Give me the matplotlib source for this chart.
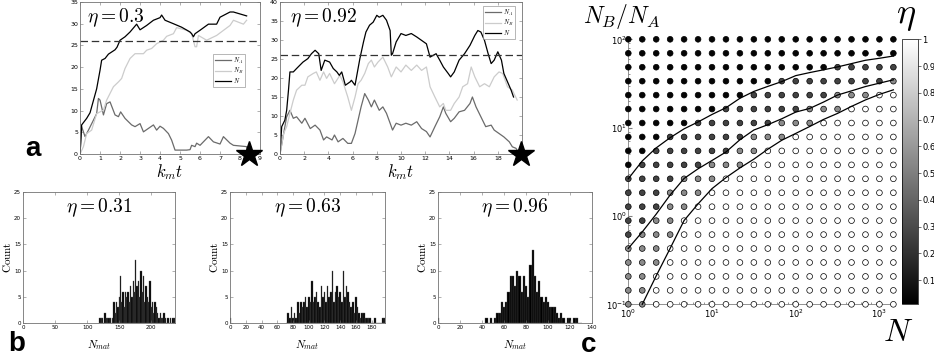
import numpy as np
import matplotlib.pyplot as plt
from matplotlib.lines import Line2D

plt.rcParams['mathtext.fontset'] = 'cm'
plt.rcParams['font.family'] = 'DejaVu Sans'

# ---- panel a (left): eta = 0.3 ----
t1_N = [0, 0.08, 0.33, 0.5, 0.83, 1.0, 1.08, 1.25, 1.42, 1.75, 1.85, 2.0, 2.25, 2.5, 2.83, 3.0, 3.33, 3.67, 4.0, 4.08,
        4.25, 4.67, 5.08, 5.5, 5.58, 5.67, 5.75, 6.0, 6.42, 6.83, 7.0, 7.5, 7.67, 8.33]
v1_N = [0, 6.7, 8.2, 9.5, 15, 19.3, 21.6, 22, 23, 24, 24.6, 26.2, 27, 28.1, 29.9, 28.6, 29.6, 30.8, 31.4, 32,
        30.8, 30, 29.2, 28.1, 27.7, 27, 27.7, 28.5, 29.9, 29.9, 31.5, 32.7, 32.7, 31.8]
t1_B = [0, 0.17, 0.33, 0.58, 0.83, 1.17, 1.33, 1.67, 1.92, 2.08, 2.25, 2.5, 2.75, 3.17, 3.33, 3.58, 3.83, 4.17, 4.33,
        4.67, 4.83, 5.33, 5.58, 5.75, 5.83, 5.92, 6.33, 6.83, 7.5, 7.67, 8.17, 8.33]
v1_B = [0, 1.7, 4.7, 5.5, 9.3, 10.1, 12.4, 15.5, 16.6, 17.4, 19.7, 22, 23.1, 23.1, 23.9, 24.3, 25.4, 26.2, 27.1,
        27.7, 29.1, 28.5, 27.7, 24.7, 24.7, 27.3, 26.2, 27.3, 29.6, 30.8, 29.9, 30.8]
t1_A = [0, 0.08, 0.25, 0.42, 0.67, 0.83, 0.92, 1.0, 1.17, 1.33, 1.5, 1.75, 1.92, 2.03, 2.25, 2.58, 2.75, 3.0, 3.17,
        3.42, 3.67, 3.83, 4.0, 4.17, 4.42, 4.58, 4.75, 5.33, 5.5, 5.58, 5.75, 5.83, 6.0, 6.42, 6.67, 7.0, 7.17,
        7.5, 7.67, 8.33, 8.4]
v1_A = [0, 6.3, 4, 5.5, 7.8, 9.3, 12.8, 12.4, 9, 11.6, 12, 9, 8.6, 9.7, 8.2, 6.7, 6.3, 7, 5.1,
        5.9, 6.7, 5.5, 6.4, 5.9, 4.7, 3.2, 0.9, 0.9, 1, 2, 1.7, 2.5, 2, 4, 2.8, 2.3, 4,
        2.5, 2, 1.7, 0]

# ---- panel a (right): eta = 0.92 ----
t2_N = [0, 0.14, 0.4, 0.55, 0.7, 0.82, 1.1, 1.37, 1.65, 1.9, 2.3, 2.6, 2.9, 3.2, 3.4, 3.7, 4.1, 4.4, 4.7, 4.9, 5.1,
        5.4, 5.8, 5.9, 6.2, 6.6, 6.9, 7.1, 7.4, 7.7, 8.0, 8.2, 8.5, 8.8, 9.1, 9.2, 9.3, 9.6, 10.0, 10.4, 10.85,
        11.3, 11.7, 12.1, 12.4, 12.9, 13.2, 13.5, 13.9, 14.1, 14.4, 14.8, 15.25, 15.7, 16.1, 16.35, 16.6, 16.9,
        17.2, 17.45, 17.7, 18.0, 18.3, 18.5, 18.8, 19.1, 19.3]
v2_N = [0, 7.2, 8.9, 11.5, 16.8, 21.6, 21.6, 22.5, 23.4, 24.2, 25.1, 26.4, 27.3, 26.4, 22, 24.7, 24.2, 22.5, 21.6, 20.7, 21.6,
        18.1, 19, 19.4, 18.1, 25.1, 29.5, 32.1, 33.9, 34.7, 36.5, 36, 36.5, 35.2, 32.5, 26, 26.4, 29.5, 31.7, 31.2, 31.7,
        30.8, 29.9, 29, 25.5, 26.4, 24.7, 22.9, 21.2, 20.3, 21.6, 24.7, 26.4, 28.6, 31.2, 32.5, 32.1, 29.9,
        26.4, 23.8, 24.7, 26.9, 24.7, 21.2, 19, 16.8, 15]
t2_B = [0, 0.3, 0.55, 0.82, 1.1, 1.37, 1.8, 2.06, 2.3, 2.75, 3.0, 3.3, 3.6, 3.85, 4.1, 4.5, 4.95, 5.2, 5.6, 5.9, 6.2,
        6.45, 6.7, 7.0, 7.3, 7.55, 7.8, 8.1, 8.5, 8.9, 9.2, 9.6, 10.0, 10.4, 10.85, 11.3, 11.7, 12.1, 12.4, 12.8,
        13.2, 13.5, 13.7, 14.1, 14.4, 14.8, 15.1, 15.5, 15.8, 16.1, 16.5, 16.9, 17.3, 17.7, 18.1, 18.4, 18.8,
        19.2, 19.6]
v2_B = [0, 5.4, 7.2, 10.7, 14.2, 16.8, 18.1, 18.1, 20.3, 21.2, 21.6, 19.4, 21.6, 19.9, 21.2, 18.5, 20.7, 19, 15, 11.5, 15,
        18.5, 19.4, 21.2, 23.8, 24.7, 22.9, 24.2, 25.5, 22.9, 20.3, 22.9, 21.6, 23.4, 22, 23.4, 22, 22.9, 17.7, 15,
        12.4, 13.3, 11.5, 11.5, 13.3, 15, 17.7, 18.5, 22.9, 20.3, 17.7, 18.5, 17.7, 20.3, 21.6, 21.2, 17.7,
        16.8, 14.2]
t2_A = [0, 0.3, 0.55, 0.82, 1.1, 1.37, 1.8, 2.06, 2.5, 2.9, 3.3, 3.6, 3.85, 4.3, 4.5, 4.8, 5.2, 5.6, 5.9, 6.2, 6.45,
        6.7, 7.0, 7.3, 7.55, 7.8, 8.2, 8.5, 8.8, 9.1, 9.3, 9.6, 10.0, 10.4, 10.85, 11.3, 11.7, 12.1, 12.4, 12.8,
        13.2, 13.5, 13.7, 14.1, 14.4, 14.8, 15.25, 15.7, 15.9, 16.2, 16.6, 17.0, 17.45, 17.7, 18.1, 18.5, 18.95,
        19.2, 19.5, 19.8]
v2_A = [0, 5.4, 9.8, 11.5, 9.4, 9.8, 8.1, 9.4, 6.7, 7.6, 6.3, 3.7, 4.5, 3.7, 5, 3.2, 4.1, 2.8, 2.8, 5.4, 8.9,
        12.4, 15.9, 14.2, 12.4, 14.2, 11.5, 12.4, 10.7, 8.1, 6.3, 8.1, 7.6, 8.1, 7.6, 8.5, 6.7, 5.9, 4.5, 7.2,
        9.8, 12.4, 10.7, 8.5, 9.4, 11.1, 11.5, 13.3, 15, 12.4, 9.8, 7.2, 7.6, 6.3, 5.4, 4.5, 3.2,
        1.9, 1.5, 0]
N_target = 26

# ---- panel b: histograms of N_mat ----
hist1_x = list(range(120, 237, 2))
hist1_n = [1, 1, 1, 0, 2, 1, 1, 1, 1, 0, 1, 4, 2, 4, 3, 5, 9, 4, 6, 3, 6, 5, 6, 4, 7, 5, 8, 6, 12, 7,
           8, 5, 10, 6, 9, 4, 7, 5, 4, 8, 3, 4, 2, 4, 3, 2, 1, 2, 1, 1, 2, 1, 0, 1, 0, 1, 0, 1, 1]
hist2_x = [0] + list(range(72, 197, 2))
hist2_n = [1, 0, 2, 1, 3, 1, 2, 1, 4, 2, 4, 3, 4, 5, 3, 5, 4, 8, 4, 5, 6, 4, 3, 7, 5, 6, 4, 7, 5, 6,
           10, 4, 6, 7, 5, 6, 4, 10, 5, 7, 6, 4, 3, 4, 2, 5, 3, 2, 1, 2, 2, 1, 1, 1, 1, 0, 0, 1, 0,
           0, 0, 0, 1, 1]
hist3_x = [0] + list(range(44, 131, 2))
hist3_n = [1, 1, 0, 1, 0, 1, 2, 2, 4, 3, 4, 6, 9, 9, 7, 10, 9, 6, 9, 7, 5, 11, 14, 9, 6, 8, 5, 4, 5, 4,
           3, 3, 3, 2, 1, 2, 1, 0, 1, 1, 0, 1, 1, 0, 0]
hist_eta = ['0.31', '0.63', '0.96']
hist_xlim = [237, 197, 140]
hist_ticks = [range(0, 201, 50), range(0, 181, 20), range(0, 141, 20)]

# ---- panel c: eta over (N, N_B/N_A) ----
N_vals = 10 ** (np.arange(20) / 6)
ratio_vals = np.logspace(-1, 2, 20)
# rows from top (N_B/N_A = 100) to bottom (0.1); k black, d dark, m mid, w white
eta_rows = [
    "kkkkkkkkkkkkkkkkkkkk",
    "kkkkkkkkkkkkkkkkkkkk",
    "kkkkkkkkkkkkkkkddddd",
    "kkkkkkkkkkkddddddddm",
    "kkkkkkkkkddddddmmmww",
    "kkkkkkkddddddmmmwwww",
    "kkkkkddddddmmmwwwwww",
    "kkkddddddmmmwwwwwwww",
    "kkddddddmmwwwwwwwwww",
    "kdddddmmmwwwwwwwwwww",
    "ddddmmmwwwwwwwwwwwww",
    "dddmmmwwwwwwwwwwwwww",
    "dddmmwwwwwwwwwwwwwww",
    "ddmmwwwwwwwwwwwwwwww",
    "dmmmwwwwwwwwwwwwwwww",
    "mmmwwwwwwwwwwwwwwwww",
    "mmmwwwwwwwwwwwwwwwww",
    "mmwwwwwwwwwwwwwwwwww",
    "mmwwwwwwwwwwwwwwwwww",
    "mmwwwwwwwwwwwwwwwwww",
]
eta_level = {'k': 0.03, 'd': 0.27, 'm': 0.55, 'w': 1.0}
line_top = [2.64, 4.2, 5.9, 7.7, 9.7, 11.6, 14.1, 16.8, 21.5, 25.7, 29.3, 33.2, 38.8, 42.0, 45.2, 48.7, 53.1, 57.9, 61.0, 64.7]
line_mid = [0.43, 0.66, 1.05, 1.73, 2.66, 3.42, 4.25, 5.3, 7.3, 9.4, 10.8, 12.6, 15.0, 16.5, 19.5, 23.4, 26.1, 29.2, 31.9, 34.8]
line_bot = [None, 0.1, 0.21, 0.43, 0.89, 1.37, 2.04, 2.72, 3.5, 4.4, 5.7, 7.2, 8.6, 10.3, 12.4, 14.5, 17.4, 20.6, 23.8, 26.8]

fig = plt.figure(figsize=(9.34, 3.59), dpi=100)

def style_box(ax, fs=4.5):
    for s in ax.spines.values():
        s.set_color('0.45')
        s.set_linewidth(0.6)
    ax.tick_params(direction='in', labelsize=fs, length=2, width=0.4, color='0.45',
                   top=True, right=True, pad=1.5)

# panel a
for pos, t_series, xmax, ymax, xt, eta_txt, star_x, leg_loc in [
        ([0.0857, 0.571, 0.1927, 0.4234], [(t1_A, v1_A), (t1_B, v1_B), (t1_N, v1_N)], 9, 35, range(0, 10), '0.3', 8.45,
         (0.74, 0.66)),
        ([0.2998, 0.571, 0.2591, 0.4234], [(t2_A, v2_A), (t2_B, v2_B), (t2_N, v2_N)], 20, 40, range(0, 19, 2), '0.92', 19.9,
         (0.84, 0.975))]:
    ax = fig.add_axes(pos)
    for (t, v), c in zip(t_series, ['0.42', '0.8', 'black']):
        ax.plot(t, v, color=c, lw=0.9)
    ax.axhline(N_target, color='0.2', lw=0.9, dashes=(6, 3))
    ax.plot([star_x], [0], marker='*', color='black', markersize=19, clip_on=False, zorder=5)
    ax.set_xlim(0, xmax)
    ax.set_ylim(0, ymax)
    ax.set_xticks(list(xt))
    ax.set_yticks(range(0, ymax + 1, 5))
    style_box(ax)
    ax.set_xlabel('$k_m t$', fontsize=12, labelpad=1)
    ax.text(0.04, 0.97, r'$\eta = %s$' % eta_txt, transform=ax.transAxes, fontsize=14, va='top', ha='left')
    handles = [Line2D([], [], color=c, lw=0.9) for c in ['0.42', '0.8', 'black']]
    leg = ax.legend(handles, ['$N_A$', '$N_B$', '$N$'], fontsize=4.5, loc='upper left', bbox_to_anchor=leg_loc,
                    frameon=True, fancybox=False, handlelength=2.5, borderpad=0.3, labelspacing=0.05,
                    handletextpad=0.3, borderaxespad=0)
    leg.get_frame().set_edgecolor('0.5')
    leg.get_frame().set_linewidth(0.5)

fig.text(0.027, 0.565, 'a', fontsize=20, fontweight='bold', family='Liberation Sans')

# panel b
hist_pos = [[0.0246, 0.1003, 0.1627, 0.3649], [0.2463, 0.1003, 0.166, 0.3649], [0.469, 0.1003, 0.1649, 0.3649]]
for i, (hx, hn) in enumerate([(hist1_x, hist1_n), (hist2_x, hist2_n), (hist3_x, hist3_n)]):
    ax = fig.add_axes(hist_pos[i])
    ax.bar(hx, hn, width=2, color='black', edgecolor='0.35', linewidth=0.25)
    ax.set_xlim(0, hist_xlim[i])
    ax.set_ylim(0, 25)
    ax.set_xticks(list(hist_ticks[i]))
    ax.set_yticks(range(0, 26, 5))
    style_box(ax, fs=4)
    ax.set_ylabel(r'$\mathrm{Count}$', fontsize=8, labelpad=1)
    ax.set_xlabel('$N_{mat}$', fontsize=8, labelpad=6)
    ax.text(0.5, 0.88, r'$\eta = %s$' % hist_eta[i], transform=ax.transAxes, fontsize=14, va='center', ha='center')

fig.text(0.009, 0.022, 'b', fontsize=20, fontweight='bold', family='Liberation Sans')

# panel c
axc = fig.add_axes([0.6727, 0.1523, 0.2838, 0.7382])
NN, RR = np.meshgrid(N_vals, ratio_vals[::-1])
eta = np.array([[eta_level[ch] for ch in row] for row in eta_rows])
sc = axc.scatter(NN.ravel(), RR.ravel(), c=eta.ravel(), cmap='gray', vmin=0.01, vmax=1, s=17,
                 edgecolors='black', linewidths=0.5, clip_on=False, zorder=3)
axc.plot(N_vals, line_top, color='black', lw=0.9, zorder=4, clip_on=False)
axc.plot(N_vals, line_mid, color='black', lw=0.9, zorder=4, clip_on=False)
axc.plot(N_vals[1:], line_bot[1:], color='black', lw=0.9, zorder=4, clip_on=False)
axc.set_xscale('log')
axc.set_yscale('log')
axc.set_xlim(N_vals[0], N_vals[-1])
axc.set_ylim(0.1, 100)
for s in ['top', 'right']:
    axc.spines[s].set_visible(False)
for s in ['left', 'bottom']:
    axc.spines[s].set_color('0.5')
    axc.spines[s].set_linewidth(0.6)
axc.tick_params(which='both', direction='in', labelsize=6, color='0.5', pad=1)
axc.tick_params(axis='x', which='both', pad=2.5)
axc.tick_params(which='major', length=3)
axc.tick_params(which='minor', length=1.5)

cax = fig.add_axes([0.9657, 0.1523, 0.0171, 0.7382])
cb = fig.colorbar(sc, cax=cax, ticks=np.round(np.arange(0.1, 1.01, 0.1), 1))
cb.ax.set_yticklabels(['0.1', '0.2', '0.3', '0.4', '0.5', '0.6', '0.7', '0.8', '0.9', '1'])
cb.ax.tick_params(labelsize=6, length=2, width=0.4, pad=1)
cb.outline.set_linewidth(0.5)

fig.text(0.624, 0.955, '$N_B/N_A$', fontsize=17, ha='left', va='center')
fig.text(0.9705, 0.955, r'$\eta$', fontsize=26, ha='center', va='center')
fig.text(0.962, 0.075, '$N$', fontsize=23, ha='center', va='center')
fig.text(0.622, 0.02, 'c', fontsize=20, fontweight='bold', family='Liberation Sans')

fig.savefig('out.png', dpi=100)
